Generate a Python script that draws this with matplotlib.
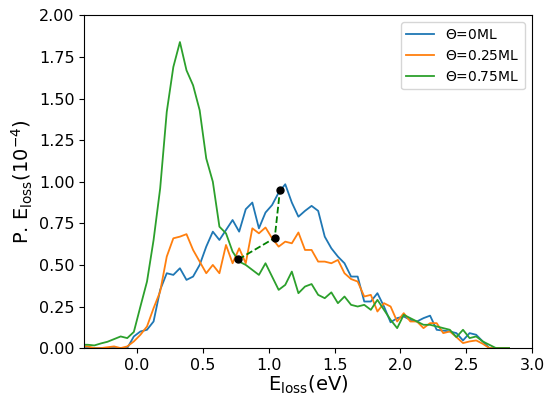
import matplotlib
matplotlib.use('Agg')
import matplotlib.pyplot as plt

# energy grid (eV)
e_loss = [-0.425, -0.375, -0.325, -0.275, -0.225, -0.175, -0.125, -0.075, -0.025,
          0.025, 0.075, 0.125, 0.175, 0.225, 0.275, 0.325, 0.375, 0.425, 0.475,
          0.525, 0.575, 0.625, 0.675, 0.725, 0.775, 0.825, 0.875, 0.925, 0.975,
          1.025, 1.075, 1.125, 1.175, 1.225, 1.275, 1.325, 1.375, 1.425, 1.475,
          1.525, 1.575, 1.625, 1.675, 1.725, 1.775, 1.825, 1.875, 1.925, 1.975,
          2.025, 2.075, 2.125, 2.175, 2.225, 2.275, 2.325, 2.375, 2.425, 2.475,
          2.525, 2.575, 2.625, 2.675, 2.725, 2.775, 2.825]

theta_0 = [0.0, 0.0, 0.0, 0.0, 0.0, 0.0, 0.0, 0.0, 0.07,
           0.10, 0.11, 0.16, 0.35, 0.45, 0.44, 0.48, 0.41, 0.43, 0.50,
           0.61, 0.70, 0.65, 0.71, 0.77, 0.70, 0.835, 0.875, 0.72, 0.815,
           0.86, 0.935, 0.985, 0.875, 0.79, 0.825, 0.855, 0.825, 0.67, 0.60,
           0.55, 0.51, 0.43, 0.43, 0.28, 0.28, 0.33, 0.25, 0.155, 0.18,
           0.19, 0.17, 0.16, 0.18, 0.195, 0.11, 0.105, 0.10, 0.09, 0.046,
           0.09, 0.08, 0.04, 0.0, 0.0, 0.0, 0.0]

theta_025 = [0.01, 0.01, 0.0, 0.0, 0.005, 0.01, 0.0, 0.01, 0.04,
             0.08, 0.13, 0.24, 0.34, 0.55, 0.66, 0.67, 0.685, 0.59, 0.52,
             0.45, 0.50, 0.45, 0.62, 0.51, 0.60, 0.51, 0.72, 0.69, 0.725,
             0.66, 0.61, 0.64, 0.63, 0.695, 0.59, 0.59, 0.52, 0.52, 0.51,
             0.53, 0.45, 0.415, 0.40, 0.31, 0.32, 0.22, 0.27, 0.25, 0.16,
             0.21, 0.16, 0.16, 0.12, 0.15, 0.15, 0.09, 0.10, 0.066, 0.03,
             0.04, 0.046, 0.026, 0.0, 0.0, 0.0, 0.0]

theta_075 = [0.02, 0.02, 0.016, 0.028, 0.038, 0.054, 0.07, 0.06, 0.097,
             0.25, 0.40, 0.65, 0.96, 1.42, 1.69, 1.84, 1.67, 1.58, 1.43,
             1.14, 1.00, 0.73, 0.69, 0.58, 0.52, 0.50, 0.47, 0.44, 0.51,
             0.43, 0.35, 0.38, 0.46, 0.33, 0.37, 0.385, 0.32, 0.30, 0.335,
             0.27, 0.31, 0.26, 0.25, 0.26, 0.23, 0.29, 0.23, 0.17, 0.12,
             0.20, 0.18, 0.16, 0.14, 0.14, 0.13, 0.12, 0.11, 0.066, 0.11,
             0.06, 0.07, 0.04, 0.02, 0.0, 0.0, 0.0]

labels = [r'$\Theta$=0ML', r'$\Theta$=0.25ML', r'$\Theta$=0.75ML']

# marked points joined by the dashed guide
mark_x = [0.768, 1.045, 1.085]
mark_y = [0.533, 0.662, 0.952]

fig = plt.figure(figsize=(5.52, 3.96), dpi=100)
ax = fig.add_axes([0.153, 0.121, 0.811, 0.840])

for ys, lab in zip([theta_0, theta_025, theta_075], labels):
    ax.plot(e_loss, ys, lw=1.3, label=lab)

ax.plot(mark_x, mark_y, '--', color='g', lw=1.3)
ax.plot(mark_x, mark_y, 'o', color='k', ms=5)

ax.set_xlim(-0.4, 3.0)
ax.set_ylim(0, 2.0)
ax.set_xticks([0.0, 0.5, 1.0, 1.5, 2.0, 2.5, 3.0])
ax.set_yticks([0.0, 0.25, 0.5, 0.75, 1.0, 1.25, 1.5, 1.75, 2.0])
ax.yaxis.set_major_formatter(plt.FormatStrFormatter('%.2f'))
ax.xaxis.set_major_formatter(plt.FormatStrFormatter('%.1f'))
ax.tick_params(labelsize=11.5)

ax.set_xlabel(r'E$_{\rm loss}$(eV)', fontsize=14, labelpad=1)
ax.set_ylabel(r'P. E$_{\rm loss}$(10$^{-4}$)', fontsize=14, labelpad=3)
ax.legend(loc='upper right', fontsize=10)

fig.savefig('out.png', dpi=100)
